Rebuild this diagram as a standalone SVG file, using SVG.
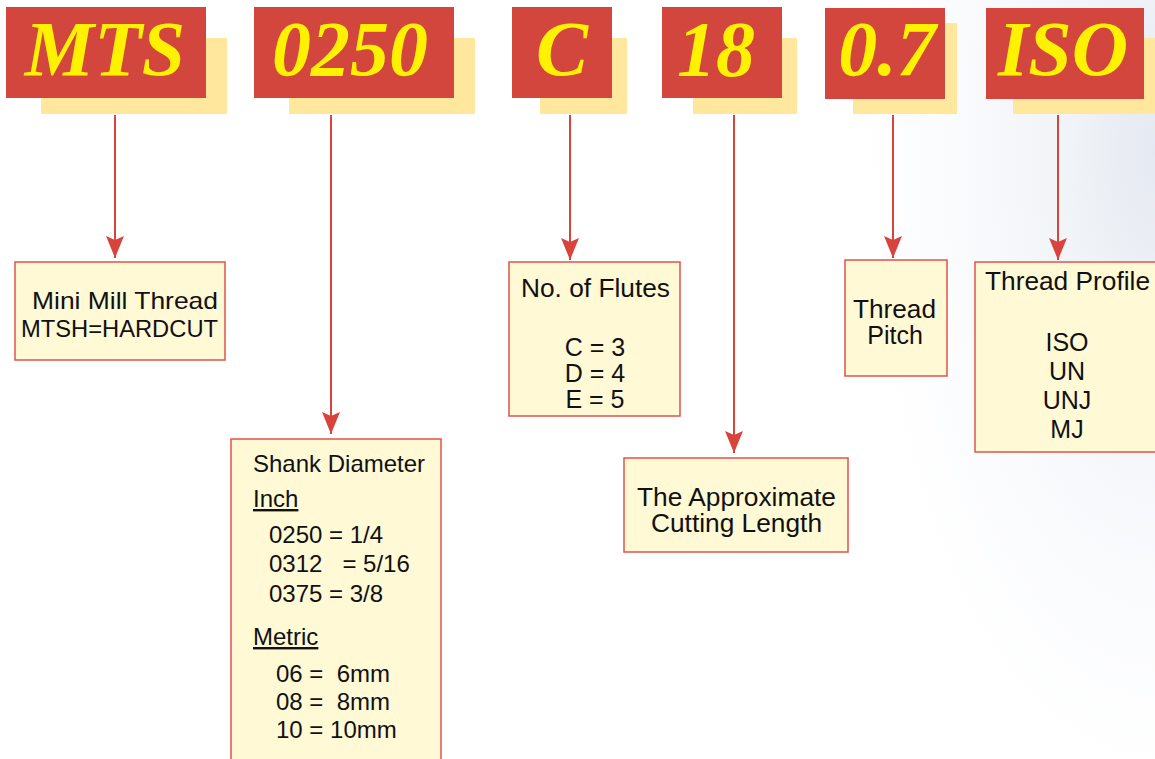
<svg xmlns="http://www.w3.org/2000/svg" width="1155" height="759" viewBox="0 0 1155 759">
  <defs>
    <radialGradient id="bg" cx="1155" cy="150" r="480" gradientUnits="userSpaceOnUse" gradientTransform="translate(1155 150) scale(0.6 1.3) translate(-1155 -150)">
      <stop offset="0" stop-color="#E5E9F1"/>
      <stop offset="0.3" stop-color="#F0F3F7"/>
      <stop offset="0.7" stop-color="#FAFBFD"/>
      <stop offset="1" stop-color="#FFFFFF"/>
    </radialGradient>
    <marker id="arr" markerUnits="userSpaceOnUse" viewBox="-22 -9 22 18" refX="0" refY="0" markerWidth="22" markerHeight="18" orient="auto">
      <path d="M0,0 L-22,-9 L-18,0 L-22,9 Z" fill="#D8443C"/>
    </marker>
  </defs>
  <style>
    .shadow { fill: #FFE89E; }
    .tag { fill: #D3463E; }
    .code { font-family: "Liberation Serif", "Times New Roman", serif; font-weight: bold; font-style: italic; font-size: 78px; fill: #FFF200; text-anchor: middle; }
    .box { fill: #FFF9D6; stroke: #E1534B; stroke-width: 1.5; }
    .t { font-family: "Liberation Sans", Arial, sans-serif; font-size: 24px; fill: #111111; }
    .l { font-size: 25px; }
    .c { text-anchor: middle; }
    .u { text-decoration: underline; }
    .conn { stroke: #D8443C; stroke-width: 2; fill: none; marker-end: url(#arr); }
  </style>

  <rect x="0" y="0" width="1155" height="759" fill="#FFFFFF"/>
  <rect x="0" y="0" width="1155" height="759" fill="url(#bg)"/>

  <g id="code-MTS">
    <rect class="shadow" x="41" y="38" width="186" height="76"/>
    <rect class="tag" x="6" y="7" width="200" height="91"/>
    <text class="code" x="105" y="75">MTS</text>
  </g>
  <g id="code-0250">
    <rect class="shadow" x="289" y="38" width="186" height="76"/>
    <rect class="tag" x="254" y="7" width="200" height="91"/>
    <text class="code" x="350" y="75">0250</text>
  </g>
  <g id="code-C">
    <rect class="shadow" x="540" y="38" width="87" height="76"/>
    <rect class="tag" x="512" y="7" width="100" height="91"/>
    <text class="code" x="562" y="75">C</text>
  </g>
  <g id="code-18">
    <rect class="shadow" x="693" y="38" width="104" height="76"/>
    <rect class="tag" x="662" y="7" width="120" height="91"/>
    <text class="code" x="716" y="75">18</text>
  </g>
  <g id="code-07">
    <rect class="shadow" x="853" y="23" width="104" height="91"/>
    <rect class="tag" x="825" y="8" width="120" height="91"/>
    <text class="code" x="887" y="75">0.7</text>
  </g>
  <g id="code-ISO">
    <rect class="shadow" x="1013" y="38" width="142" height="76"/>
    <rect class="tag" x="986" y="8" width="158" height="91"/>
    <text class="code" x="1063" y="75">ISO</text>
  </g>

  <g id="connectors">
    <path class="conn" d="M115,115 V258"/>
    <path class="conn" d="M331,115 V434"/>
    <path class="conn" d="M570,115 V260"/>
    <path class="conn" d="M734,115 V453"/>
    <path class="conn" d="M893,115 V258"/>
    <path class="conn" d="M1058,115 V260"/>
  </g>

  <g id="node-mini-mill">
    <rect class="box" x="15" y="262" width="210" height="98"/>
    <text class="t" x="32" y="309" textLength="186" lengthAdjust="spacingAndGlyphs">Mini Mill Thread</text>
    <text class="t" x="21" y="337" textLength="197" lengthAdjust="spacingAndGlyphs">MTSH=HARDCUT</text>
  </g>

  <g id="node-shank">
    <rect class="box" x="231" y="439" width="210" height="335"/>
    <text class="t" x="253" y="472">Shank Diameter</text>
    <text class="t u" x="253" y="507">Inch</text>
    <text class="t" x="269" y="543" xml:space="preserve">0250 = 1/4</text>
    <text class="t" x="269" y="572" xml:space="preserve">0312   = 5/16</text>
    <text class="t" x="269" y="602" xml:space="preserve">0375 = 3/8</text>
    <text class="t u" x="253" y="645">Metric</text>
    <text class="t" x="276" y="682" xml:space="preserve">06 =  6mm</text>
    <text class="t" x="276" y="710" xml:space="preserve">08 =  8mm</text>
    <text class="t" x="276" y="738" xml:space="preserve">10 = 10mm</text>
  </g>

  <g id="node-flutes">
    <rect class="box" x="509" y="262" width="171" height="154"/>
    <text class="t l" x="521" y="297" textLength="149" lengthAdjust="spacingAndGlyphs">No. of Flutes</text>
    <text class="t l c" x="595" y="356">C = 3</text>
    <text class="t l c" x="595" y="382">D = 4</text>
    <text class="t l c" x="595" y="408">E = 5</text>
  </g>

  <g id="node-length">
    <rect class="box" x="624" y="458" width="224" height="94"/>
    <text class="t l" x="637" y="506" textLength="199" lengthAdjust="spacingAndGlyphs">The Approximate</text>
    <text class="t l" x="651" y="532" textLength="171" lengthAdjust="spacingAndGlyphs">Cutting Length</text>
  </g>

  <g id="node-pitch">
    <rect class="box" x="845" y="260" width="102" height="116"/>
    <text class="t l" x="853" y="318" textLength="83" lengthAdjust="spacingAndGlyphs">Thread</text>
    <text class="t l c" x="895" y="344">Pitch</text>
  </g>

  <g id="node-profile">
    <rect class="box" x="975" y="262" width="185" height="190"/>
    <text class="t l" x="985" y="290" textLength="165" lengthAdjust="spacingAndGlyphs">Thread Profile</text>
    <text class="t l c" x="1067" y="351">ISO</text>
    <text class="t l c" x="1067" y="380">UN</text>
    <text class="t l c" x="1067" y="409">UNJ</text>
    <text class="t l c" x="1067" y="438">MJ</text>
  </g>
</svg>
